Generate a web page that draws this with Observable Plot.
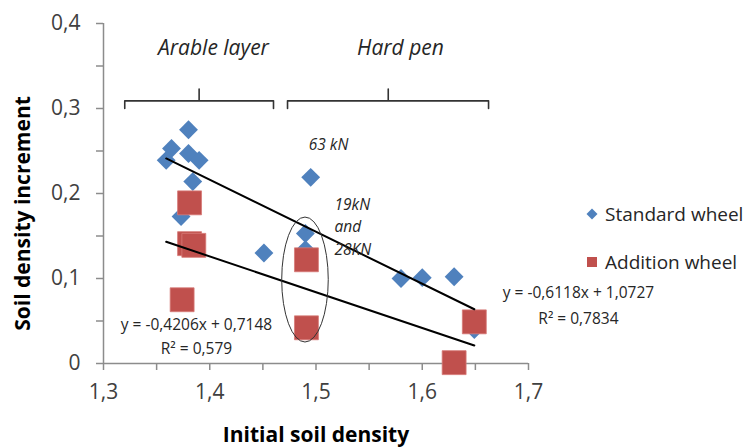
<!DOCTYPE html>
<html>
<head>
<meta charset="utf-8">
<script src="https://cdn.jsdelivr.net/npm/d3@7"></script>
<script src="https://cdn.jsdelivr.net/npm/@observablehq/plot@0.6"></script>
<style>
  html, body { margin: 0; padding: 0; background: #fff; }
  #wrap { position: relative; width: 756px; height: 447px; font-family: "Open Sans", Lato, sans-serif; }
  #legend { position: absolute; left: 585px; top: 203px; font-size: 19px; color: #262626; }
  #legend .row { display: flex; align-items: center; height: 22px; margin-bottom: 26px; }
  #legend svg { margin-right: 6px; }
</style>
</head>
<body>
<div id="wrap"><div id="legend"></div></div>
<script>
// ---- data ----
const standardX = [1.380, 1.364, 1.359, 1.380, 1.390, 1.384, 1.373, 1.451, 1.495, 1.490, 1.490, 1.580, 1.600, 1.630, 1.649];
const standardY = [0.275, 0.253, 0.239, 0.247, 0.239, 0.214, 0.173, 0.130, 0.219, 0.153, 0.134, 0.100, 0.101, 0.102, 0.040];
const additionX = [1.381, 1.381, 1.385, 1.374, 1.491, 1.491, 1.649, 1.630];
const additionY = [0.189, 0.141, 0.139, 0.075, 0.122, 0.042, 0.049, 0.001];

const seriesNames = ["Standard wheel", "Addition wheel"];
const seriesColors = ["#4F81BD", "#C0504D"];

// trend lines (from the equations shown on the chart)
const trendSlopes = [-0.6118, -0.4206];
const trendIntercepts = [1.0727, 0.7148];
const trendXRange = [1.359, 1.649];

// ticks
const xTicks = [1.3, 1.35, 1.4, 1.45, 1.5, 1.55, 1.6, 1.65, 1.7];
const yTicks = [0, 0.05, 0.1, 0.15, 0.2, 0.25, 0.3, 0.35, 0.4];

// annotations
const braceArableX = [1.320, 1.320, 1.390, 1.390, 1.390, 1.460, 1.460];
const braceArableY = [0.300, 0.309, 0.309, 0.323, 0.309, 0.309, 0.300];
const braceHardX = [1.4732, 1.4732, 1.568, 1.568, 1.568, 1.6624, 1.6624];
const braceHardY = [0.300, 0.309, 0.309, 0.323, 0.309, 0.309, 0.300];
const layerLabels = ["Arable layer", "Hard pen"];
const layerLabelX = [1.4035, 1.5795];
const layerLabelY = [0.3706, 0.3706];
const forceLabels = ["63 kN", "19kN", "and", "28KN"];
const forceLabelX = [1.5118, 1.5174, 1.5174, 1.5174];
const forceLabelY = [0.2576, 0.186, 0.160, 0.134];
const forceAnchor = ["middle", "start", "start", "start"];
const eqLabels = ["y = -0,4206x + 0,7148", "R² = 0,579", "y = -0,6118x + 1,0727", "R² = 0,7834"];
const eqLabelX = [1.3875, 1.3875, 1.747, 1.747];
const eqLabelY = [0.0447, 0.0176, 0.0824, 0.0529];
const ellipseCenter = [1.4901, 0.0982];
const ellipseRadii = [0.0219, 0.0735];

// ---- build tables ----
const standard = standardX.map((x, i) => ({x, y: standardY[i]}));
const addition = additionX.map((x, i) => ({x, y: additionY[i]}));
const trends = [];
trendSlopes.forEach((m, k) => trendXRange.forEach(x => trends.push({series: k, x, y: m * x + trendIntercepts[k]})));
const braces = [];
braceArableX.forEach((x, i) => braces.push({b: 0, x, y: braceArableY[i]}));
braceHardX.forEach((x, i) => braces.push({b: 1, x, y: braceHardY[i]}));
const layers = layerLabels.map((t, i) => ({t, x: layerLabelX[i], y: layerLabelY[i]}));
const forces = forceLabels.map((t, i) => ({t, x: forceLabelX[i], y: forceLabelY[i], a: forceAnchor[i]}));
const eqs = eqLabels.map((t, i) => ({t, x: eqLabelX[i], y: eqLabelY[i]}));

const fmt = d => {
  const r = Math.round(d * 100);
  if (r % 10 !== 0) return "";
  return d === 0 ? "0" : String(+d.toFixed(1)).replace(".", ",");
};

function ellipseMark() {
  const s = [...arguments].find(a => a && typeof a.x === "function" && typeof a.y === "function");
  const e = document.createElementNS("http://www.w3.org/2000/svg", "ellipse");
  const cx = s.x(ellipseCenter[0]), cy = s.y(ellipseCenter[1]);
  e.setAttribute("cx", cx);
  e.setAttribute("cy", cy);
  e.setAttribute("rx", Math.abs(s.x(ellipseCenter[0] + ellipseRadii[0]) - cx));
  e.setAttribute("ry", Math.abs(s.y(ellipseCenter[1] + ellipseRadii[1]) - cy));
  e.setAttribute("fill", "none");
  e.setAttribute("stroke", "#333");
  e.setAttribute("stroke-width", "1");
  return e;
}

const font = "'Open Sans', Lato, sans-serif";
const chart = Plot.plot({
  width: 756,
  height: 447,
  marginLeft: 103,
  marginRight: 228,
  marginTop: 23,
  marginBottom: 84,
  style: {fontFamily: font, background: "#fff", overflow: "visible"},
  x: {domain: [1.3, 1.7]},
  y: {domain: [0, 0.4]},
  marks: [
    Plot.axisX({ticks: xTicks, tickFormat: fmt, tickSize: 7, tickPadding: 14, fontSize: 21, stroke: "#8c8c8c", strokeWidth: 1.5, fill: "#404040", label: null}),
    Plot.axisY({ticks: yTicks, tickFormat: fmt, tickSize: 7, tickPadding: 16, fontSize: 21, stroke: "#8c8c8c", strokeWidth: 1.5, fill: "#404040", label: null}),
    Plot.ruleY([0], {stroke: "#8c8c8c", strokeWidth: 1.5}),
    Plot.ruleX([1.3], {stroke: "#8c8c8c", strokeWidth: 1.5}),
    Plot.dot(standard, {x: "x", y: "y", symbol: "diamond2", r: 8.5, fill: seriesColors[0], stroke: "none"}),
    Plot.dot(addition, {x: "x", y: "y", symbol: "square", r: 13.5, fill: seriesColors[1], stroke: "#d77a77", strokeWidth: 0.8}),
    Plot.line(trends, {x: "x", y: "y", z: "series", stroke: "#000", strokeWidth: 2}),
    ellipseMark,
    Plot.line(braces, {x: "x", y: "y", z: "b", stroke: "#333", strokeWidth: 1.6, strokeLinejoin: "round"}),
    Plot.text(layers, {x: "x", y: "y", text: "t", fontSize: 21, fontStyle: "italic", fill: "#262626"}),
    Plot.text(forces, {x: "x", y: "y", text: "t", textAnchor: "start", fontSize: 15.5, fontStyle: "italic", fill: "#262626", filter: d => d.a === "start"}),
    Plot.text(forces, {x: "x", y: "y", text: "t", textAnchor: "middle", fontSize: 15.5, fontStyle: "italic", fill: "#262626", filter: d => d.a === "middle"}),
    Plot.text(eqs, {x: "x", y: "y", text: "t", fontSize: 15.5, fill: "#262626"}),
    Plot.text(["Soil density increment"], {frameAnchor: "left", textAnchor: "middle", lineAnchor: "middle", dx: -80, dy: 20, rotate: -90, fontSize: 21, fontWeight: "bold", fill: "#000"}),
    Plot.text(["Initial soil density"], {frameAnchor: "bottom", textAnchor: "middle", lineAnchor: "middle", dy: 72, fontSize: 21, fontWeight: "bold", fill: "#000"})
  ]
});
document.getElementById("wrap").prepend(chart);

// legend
const legend = document.getElementById("legend");
seriesNames.forEach((name, i) => {
  const row = document.createElement("div");
  row.className = "row";
  const sym = i === 0
    ? '<svg width="14" height="14"><path d="M7,1.5L12.5,7L7,12.5L1.5,7Z" fill="' + seriesColors[i] + '"/></svg>'
    : '<svg width="14" height="14"><rect x="2" y="2" width="10" height="10" fill="' + seriesColors[i] + '"/></svg>';
  row.innerHTML = sym + '<span>' + name + '</span>';
  legend.appendChild(row);
});
</script>
</body>
</html>
